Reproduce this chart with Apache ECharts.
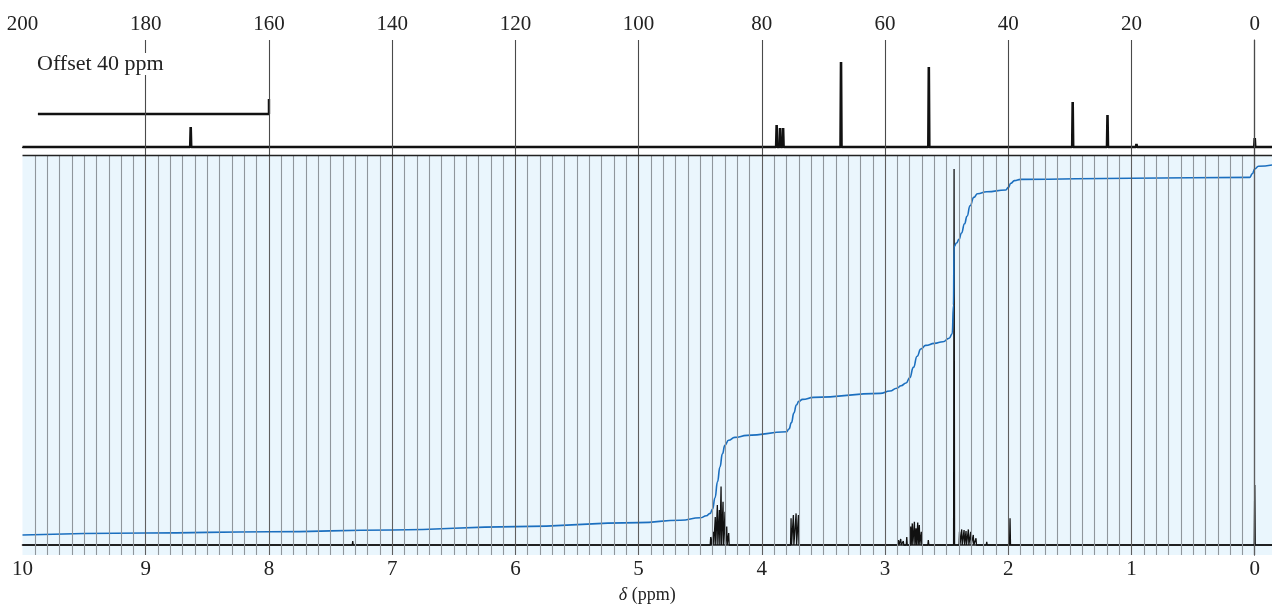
<!DOCTYPE html>
<html><head><meta charset="utf-8">
<script src="https://cdn.jsdelivr.net/npm/echarts@6/dist/echarts.min.js"></script>
<style>html,body{margin:0;padding:0;background:#fff}#c{width:1272px;height:609px}</style>
</head><body><div id="c"></div><script>
// ---- data ----
const cTickLabels = [200, 180, 160, 140, 120, 100, 80, 60, 40, 20, 0];
const hTickLabels = [10, 9, 8, 7, 6, 5, 4, 3, 2, 1, 0];
// 13C peaks: [ppm, height]
const cPeaks = [[172.7, 20], [77.6, 22], [77.05, 19], [76.55, 19], [67.15, 85], [52.9, 80], [29.55, 45], [23.9, 32], [19.2, 3], [0, 9]];
// offset (40 ppm) trace
const cOffsetTrace = [[197.5, 33], [160, 33], [160, 48]];
// 1H peaks: [ppm, height]
const hPeaks = [
  [7.32, 1],
  [4.415, 2], [4.394, 3.3], [4.378, 7], [4.361, 10], [4.345, 8.75], [4.331, 14.6], [4.315, 10.8], [4.299, 8.3], [4.285, 4.6], [4.269, 3],
  [3.763, 6.7], [3.744, 7.5], [3.722, 7.9], [3.703, 7.5],
  [2.892, 1.25], [2.873, 1.5], [2.852, 1], [2.824, 2], [2.792, 4.6], [2.779, 5.4], [2.762, 5.8], [2.749, 4.2], [2.735, 5.6], [2.722, 5], [2.706, 3.3], [2.649, 1.25],
  [2.44, 94],
  [2.396, 3.3], [2.378, 3.9], [2.359, 3.75], [2.343, 3.5], [2.324, 3.9], [2.305, 3.3], [2.284, 2.5], [2.262, 1.7], [2.175, 0.8],
  [1.986, 6.7],
  [0, 15]
];
// integral trace: [ppm, value]
const hIntegral = [
  [10, 2.5], [9, 3.0], [8, 3.3], [7, 3.75], [6, 4.6], [5, 5.6], [4.66, 6.2], [4.5, 6.8], [4.45, 7.3], [4.42, 7.9],
  [4.40, 9.0], [4.38, 11.8], [4.36, 15.8], [4.34, 19.5], [4.32, 22.8], [4.30, 24.9], [4.27, 26.2], [4.22, 26.9], [4.12, 27.4], [3.80, 28.3],
  [3.78, 29.0], [3.76, 30.6], [3.74, 33.0], [3.72, 35.0], [3.70, 35.9], [3.67, 36.4], [3.58, 36.9], [3.04, 37.9], [2.96, 38.5], [2.905, 39.2], [2.87, 39.8],
  [2.83, 40.5], [2.80, 41.8], [2.77, 44.4], [2.74, 47.2], [2.71, 49.0], [2.67, 49.9], [2.60, 50.4], [2.53, 50.8], [2.48, 51.7], [2.455, 52.8], [2.445, 60],
  [2.44, 74.6], [2.42, 75.5], [2.40, 76.4], [2.38, 78], [2.355, 80.3], [2.335, 82.2], [2.31, 84.8], [2.28, 86.9], [2.25, 87.8], [2.175, 88.3], [2.02, 88.75],
  [2.0, 89.4], [1.98, 90.4], [1.95, 91.1], [1.90, 91.4], [1.0, 91.7], [0.04, 91.9], [0.02, 92.8], [0.0, 94.0], [-0.03, 94.7], [-0.14, 95]
];

// ---- build line data from the peak lists ----
function spikes(peaks, from, to, w) {
  const s = peaks.slice().sort((a, b) => b[0] - a[0]);
  const out = [[from, 0]];
  s.forEach(p => { out.push([p[0] + w, 0], [p[0], p[1]], [p[0] - w, 0]); });
  out.push([to, 0]);
  return out;
}
const cData = spikes(cPeaks, 200, -2.8, 0.08);
const hData = spikes(hPeaks, 10, -0.14, 0.004);

const cGrid = cTickLabels.filter(v => v !== 200).map(v => ({ xAxis: v }));
const hGrid = [];
for (let i = 0; i < 100; i++) {
  const v = i / 10;
  hGrid.push({ xAxis: v, lineStyle: { color: i % 10 === 0 ? '#5f5f5f' : '#8f969c', width: 1.1 } });
}

const serif = 'Liberation Serif, Times New Roman, serif';
const chart = echarts.init(document.getElementById('c'), null, { renderer: 'canvas' });
chart.setOption({
  animation: false,
  title: {
    text: 'Offset 40 ppm', left: 37, top: 53, padding: 0,
    backgroundColor: '#fff',
    textStyle: { fontFamily: serif, fontSize: 22, fontWeight: 'normal', color: '#222' }
  },
  grid: [
    { left: 22.5, right: 0, top: 40, height: 115, show: false },
    { left: 22.5, right: 0, top: 155, height: 400, show: true, backgroundColor: '#eaf6fd', borderWidth: 0 }
  ],
  xAxis: [
    {
      type: 'value', gridIndex: 0, min: -2.8, max: 200, inverse: true, position: 'top',
      axisLine: { show: true, lineStyle: { color: '#222', width: 1.2 } },
      axisTick: { show: false }, splitLine: { show: false },
      axisLabel: { customValues: cTickLabels, fontFamily: serif, fontSize: 21, color: '#222', margin: 5 }
    },
    {
      type: 'value', gridIndex: 1, min: -0.14, max: 10, inverse: true, position: 'bottom',
      axisLine: { show: true, lineStyle: { color: '#222', width: 1.6 } },
      axisTick: { show: false }, splitLine: { show: false },
      axisLabel: { customValues: hTickLabels, fontFamily: serif, fontSize: 21, color: '#222', margin: 4 },
      name: '{i|δ} (ppm)', nameLocation: 'middle', nameGap: 31,
      nameTextStyle: { fontFamily: serif, fontSize: 18, color: '#222',
        rich: { i: { fontFamily: serif, fontSize: 18, fontStyle: 'italic', color: '#222' } } }
    }
  ],
  yAxis: [
    { type: 'value', gridIndex: 0, min: -8, max: 107,
      axisLine: { show: true, lineStyle: { color: '#222', width: 1.2 } },
      axisTick: { show: false }, axisLabel: { show: false }, splitLine: { show: false } },
    { type: 'value', gridIndex: 1, min: -2.5, max: 97.5,
      axisLine: { show: true, lineStyle: { color: '#222', width: 1.2 } },
      axisTick: { show: false }, axisLabel: { show: false }, splitLine: { show: false } }
  ],
  series: [
    { type: 'line', xAxisIndex: 0, yAxisIndex: 0, data: [], z: 1, silent: true,
      markLine: { silent: true, symbol: 'none', label: { show: false }, animation: false,
        lineStyle: { color: '#4a4a4a', width: 1.1, type: 'solid' }, data: cGrid } },
    { type: 'line', xAxisIndex: 1, yAxisIndex: 1, data: [], z: 1, silent: true,
      markLine: { silent: true, symbol: 'none', label: { show: false }, animation: false,
        lineStyle: { type: 'solid' }, data: hGrid.concat([{ yAxis: 97.5, lineStyle: { color: '#222', width: 1.4 } }]) } },
    { type: 'line', xAxisIndex: 0, yAxisIndex: 0, data: cData, showSymbol: false, z: 3, silent: true,
      lineStyle: { color: '#111', width: 2.6 } },
    { type: 'line', xAxisIndex: 0, yAxisIndex: 0, data: cOffsetTrace, showSymbol: false, z: 3, silent: true,
      lineStyle: { color: '#111', width: 2.4 } },
    { type: 'line', xAxisIndex: 1, yAxisIndex: 1, data: hData, showSymbol: false, z: 3, silent: true,
      lineStyle: { color: '#111', width: 1.3 } },
    { type: 'line', xAxisIndex: 1, yAxisIndex: 1, data: hIntegral, showSymbol: false, z: 4, silent: true,
      smooth: 0.5, smoothMonotone: 'x',
      lineStyle: { color: '#1b6fbf', width: 1.6 } }
  ]
});
</script></body></html>
